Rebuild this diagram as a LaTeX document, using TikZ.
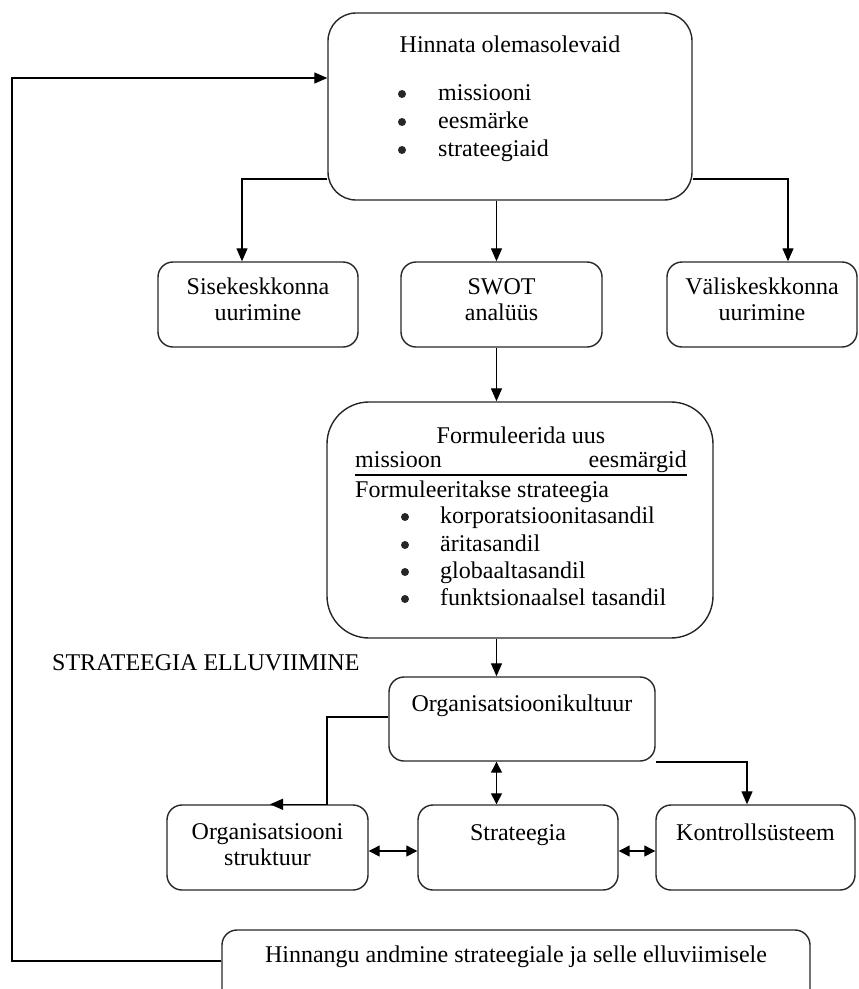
\documentclass[tikz,border=0pt]{standalone}
\usepackage{fontspec}
\setmainfont{Liberation Serif}
\usetikzlibrary{arrows.meta}
\begin{document}
\begin{tikzpicture}[x=1pt,y=-1pt,
  box/.style={draw=black!85, line width=1.4pt, rounded corners=#1, inner sep=0pt},
  box/.default=15pt,
  txt/.style={inner sep=0pt, font=\fontsize{24}{28}\selectfont},
  dot/.style={circle, fill=black!85, inner sep=0pt, minimum size=8pt},
  arr/.style={line width=1.3pt, -{Triangle[length=13pt,width=11pt]}},
  darr/.style={line width=1.3pt, {Triangle[length=11pt,width=11pt]}-{Triangle[length=11pt,width=11pt]}},
]
\useasboundingbox (0,0) rectangle (859,989);
\clip (0,0) rectangle (859,989);

% boxes
\node[box=28pt, minimum width=364pt, minimum height=187pt] (top) at (510,106.5) {};
\node[box, minimum width=200pt, minimum height=85pt] (sise) at (258,304.5) {};
\node[box, minimum width=201pt, minimum height=85pt] (swot) at (501.5,304.5) {};
\node[box, minimum width=190pt, minimum height=85pt] (val) at (762,304.5) {};
\node[box=42pt, minimum width=386pt, minimum height=236pt] (form) at (520,520) {};
\node[box, minimum width=266pt, minimum height=84pt] (org) at (522,719) {};
\node[box, minimum width=201pt, minimum height=85pt] (struk) at (267.5,847.5) {};
\node[box, minimum width=200pt, minimum height=85pt] (strat) at (518,847.5) {};
\node[box, minimum width=199pt, minimum height=85pt] (kon) at (755.5,847.5) {};
\node[box, minimum width=588pt, minimum height=80pt] (hinn) at (516,970) {};

% texts of the top box
\node[txt, anchor=base] (t0) at (510,52) {Hinnata olemasolevaid};
\node[dot] (b1) at (402,94) {};
\node[dot] (b2) at (402,122) {};
\node[dot] (b3) at (402,150) {};
\node[txt, anchor=base west] (t1) at (438,100) {missiooni};
\node[txt, anchor=base west] (t2) at (438,128) {eesmärke};
\node[txt, anchor=base west] (t3) at (438,156) {strateegiaid};

% middle row
\node[txt, anchor=base] (s1) at (258,294) {Sisekeskkonna};
\node[txt, anchor=base] (s2) at (258,320) {uurimine};
\node[txt, anchor=base] (w1) at (501.5,294) {SWOT};
\node[txt, anchor=base] (w2) at (501.5,320) {analüüs};
\node[txt, anchor=base] (v1) at (762,294) {Väliskeskkonna};
\node[txt, anchor=base] (v2) at (762,320) {uurimine};

% formulation box
\node[txt, anchor=base] (f0) at (521,443) {Formuleerida uus};
\node[txt, anchor=base west] (f1) at (355,467) {missioon};
\node[txt, anchor=base east] (f2) at (687,467) {eesmärgid};
\draw[line width=1.2pt] (f1.base west |- 0,475) coordinate (ul) -- (f2.base east |- ul);
\node[txt, anchor=base west] (f3) at (355,497) {Formuleeritakse strateegia};
\foreach \y/\t [count=\i] in {523/korporatsioonitasandil,551/äritasandil,578/globaaltasandil,605/funktsionaalsel tasandil}{
  \node[dot] (fb\i) at (405,\y-6) {};
  \node[txt, anchor=base west] (fi\i) at (440,\y) {\t};
}

% implementation part
\node[txt, anchor=base west] (impl) at (52,670) {STRATEEGIA ELLUVIIMINE};
\node[txt, anchor=base] (o1) at (522,711) {Organisatsioonikultuur};
\node[txt, anchor=base] (k1) at (267.5,839) {Organisatsiooni};
\node[txt, anchor=base] (k2) at (267.5,865) {struktuur};
\node[txt, anchor=base] (st) at (518,840) {Strateegia};
\node[txt, anchor=base] (ko) at (755.5,840) {Kontrollsüsteem};
\node[txt, anchor=base] (h1) at (516,962) {Hinnangu andmine strateegiale ja selle elluviimisele};

% connector guide points
\coordinate (cL) at (242,179);
\coordinate (cR) at (788,179);
\coordinate (cM) at (496.5,0);
\coordinate (oL) at (327,717);
\coordinate (oE) at (270,0);
\coordinate (oR) at (747,762);
\coordinate (hy) at (0,851);
\coordinate (fb) at (12,961);
\coordinate (tin) at (0,78);

% connectors
\draw[arr] (top.west |- cL) -| (sise.north -| cL);
\draw[arr] (top.east |- cR) -| (val.north -| cR);
\draw[arr] (top.south -| cM) -- (swot.north -| cM);
\draw[arr] (swot.south -| cM) -- (form.north -| cM);
\draw[arr] (form.south -| cM) -- (org.north -| cM);
\draw[arr] (org.west |- oL) -| (struk.north -| oL) -- (struk.north -| oE);
\draw[arr] (org.east |- oR) -| (kon.north -| oR);
\draw[darr] (org.south -| cM) -- (strat.north -| cM);
\draw[darr] (struk.east |- hy) -- (strat.west |- hy);
\draw[darr] (strat.east |- hy) -- (kon.west |- hy);
\draw[arr] (hinn.west |- fb) -- (fb) |- (top.west |- tin);
\end{tikzpicture}
\end{document}
